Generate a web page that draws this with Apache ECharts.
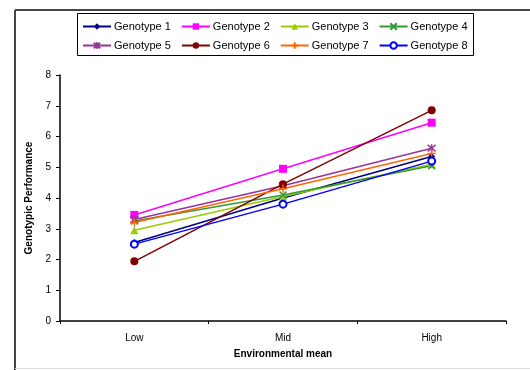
<!DOCTYPE html>
<html>
<head>
<meta charset="utf-8">
<script src="https://cdn.jsdelivr.net/npm/echarts@6/dist/echarts.min.js"></script>
<style>html,body{margin:0;padding:0;background:#fff;}#c{width:530px;height:370px;}</style>
</head>
<body>
<div id="c"></div>
<script>
var categories = ['Low', 'Mid', 'High'];
var seriesNames = ['Genotype 1','Genotype 2','Genotype 3','Genotype 4','Genotype 5','Genotype 6','Genotype 7','Genotype 8'];
var g1 = [2.55, 4.0, 5.35];
var g2 = [3.45, 4.95, 6.45];
var g3 = [2.95, 4.05, 5.1];
var g4 = [3.25, 4.1, 5.05];
var g5 = [3.3, 4.4, 5.62];
var g6 = [1.94, 4.45, 6.85];
var g7 = [3.2, 4.3, 5.45];
var g8 = [2.5, 3.8, 5.2];
var yTicks = [0,1,2,3,4,5,6,7,8];

var values = [g1,g2,g3,g4,g5,g6,g7,g8];
var colors = ['#000080','#FF00FF','#99CC00','#339933','#993399','#800000','#FF6600','#0000FF'];
var symbols = ['diamond','rect','triangle',
  'path://M0,0L10,10M10,0L0,10',
  'path://M0,0L10,10M10,0L0,10M5,-1L5,11',
  'circle',
  'path://M5,0L5,10M0,5L10,5',
  'emptyCircle'];
var sizes = [7,8,8,7,8,8,8,7];

var series = seriesNames.map(function(n,i){
  var isPath = symbols[i].indexOf('path://')===0;
  return {
    name: n, type: 'line', data: values[i],
    symbol: symbols[i], symbolSize: sizes[i],
    lineStyle: {color: colors[i], width: 1.5},
    itemStyle: (isPath || symbols[i]==='emptyCircle') ? {color: colors[i], borderColor: colors[i], borderWidth: 1.5} : {color: colors[i]},
    emphasis: {disabled: true},
    animation: false
  };
});

var chart = echarts.init(document.getElementById('c'), null, {renderer:'canvas'});
var font = 'Liberation Sans, Arial, sans-serif';
var legendText = {fontSize: 11, color: '#000', fontFamily: font, padding:[0,0,0,-2]};
chart.setOption({
  animation: false,
  textStyle: {fontFamily: font},
  grid: {left: 60, right: 24, top: 75, bottom: 49},
  legend: [
    {data: seriesNames.slice(0,4), left: 77, top: 16, itemWidth: 28, itemHeight: 8, itemGap: 10,
     textStyle: legendText, selectedMode: false},
    {data: seriesNames.slice(4,8), left: 77, top: 35, itemWidth: 28, itemHeight: 8, itemGap: 10,
     textStyle: legendText, selectedMode: false}
  ],
  xAxis: {
    type: 'category', data: categories, boundaryGap: true,
    name: 'Environmental mean', nameLocation: 'middle', nameGap: 28,
    nameTextStyle: {fontSize: 10, fontWeight: 'bold', color: '#000', fontFamily: font},
    axisLine: {lineStyle: {color: '#000', width: 1.5}},
    axisTick: {show: true, length: 3, lineStyle: {color: '#000'}},
    axisLabel: {fontSize: 10, color: '#000', margin: 12, fontFamily: font},
    splitLine: {show: false}
  },
  yAxis: {
    type: 'value', min: 0, max: 8, interval: 1,
    name: 'Genotypic Performance', nameLocation: 'middle', nameGap: 25, nameRotate: 90,
    nameTextStyle: {fontSize: 10, fontWeight: 'bold', color: '#000', fontFamily: font},
    axisLine: {show: true, lineStyle: {color: '#000', width: 1.5}},
    axisTick: {show: true, length: 4, lineStyle: {color: '#000'}},
    axisLabel: {fontSize: 10, color: '#000', margin: 9, fontFamily: font,
      formatter: function(v){ return yTicks.indexOf(v) >= 0 ? String(v) : ''; }},
    splitLine: {show: false}
  },
  graphic: [
    {type: 'line', shape: {x1: 15, y1: 10, x2: 15, y2: 370}, style: {stroke: '#444', lineWidth: 2}, silent: true},
    {type: 'line', shape: {x1: 15, y1: 10, x2: 530, y2: 10}, style: {stroke: '#444', lineWidth: 2}, silent: true},
    {type: 'line', shape: {x1: 15, y1: 368.5, x2: 530, y2: 368.5}, style: {stroke: '#ddd', lineWidth: 1}, silent: true},
    {type: 'rect', shape: {x: 77.5, y: 13.5, width: 396, height: 42}, style: {fill: 'none', stroke: '#000', lineWidth: 1}, silent: true}
  ],
  series: series
});
</script>
</body>
</html>
